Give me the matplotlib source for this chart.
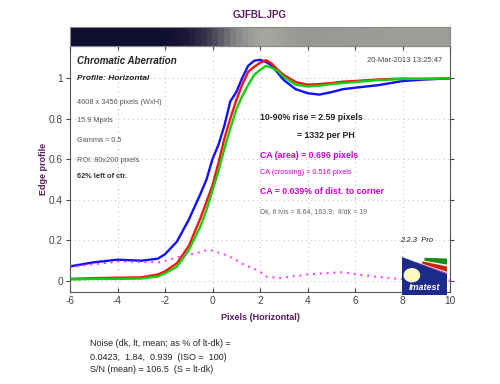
import matplotlib
matplotlib.use('Agg')
import matplotlib.pyplot as plt
import numpy as np
from matplotlib.patches import Polygon, Circle, Rectangle

plt.rcParams['font.family'] = ['Liberation Sans', 'DejaVu Sans']
plt.rcParams['axes.unicode_minus'] = False

# edge profiles
x = [-6, -5, -4, -3, -2.3, -2, -1.5, -1, -0.5, -0.25, 0, 0.25, 0.5, 0.75, 1.0,
     1.25, 1.5, 1.75, 2.0, 2.25, 2.5, 2.75, 3.0, 3.5, 4, 4.5, 5, 5.5, 6, 7, 8, 9, 10]
blue = [0.07, 0.09, 0.103, 0.098, 0.108, 0.13, 0.192, 0.30, 0.43, 0.50, 0.60, 0.67,
        0.765, 0.885, 0.93, 1.0, 1.06, 1.085, 1.09, 1.08, 1.06, 1.025, 0.99, 0.945,
        0.925, 0.918, 0.93, 0.945, 0.952, 0.965, 0.985, 0.993, 0.998]
red = [0.008, 0.012, 0.014, 0.016, 0.03, 0.045, 0.085, 0.17, 0.31, 0.39, 0.47, 0.58,
       0.70, 0.80, 0.89, 0.967, 1.03, 1.055, 1.075, 1.088, 1.07, 1.04, 1.015, 0.98,
       0.967, 0.97, 0.975, 0.982, 0.985, 0.993, 0.997, 0.995, 0.998]
green = [0.005, 0.008, 0.008, 0.01, 0.02, 0.035, 0.068, 0.15, 0.27, 0.35, 0.445, 0.54,
         0.65, 0.75, 0.845, 0.91, 0.965, 1.015, 1.04, 1.06, 1.05, 1.035, 1.005, 0.967,
         0.958, 0.962, 0.97, 0.975, 0.98, 0.99, 0.995, 0.997, 0.998]

# chromatic difference (magenta dotted)
x_ca = [-6, -4.9, -3.9, -3, -2.2, -1.4, -0.7, -0.15, 0.6, 1.0, 1.3, 1.7, 2.0, 2.3,
        2.85, 4.0, 5.4, 6.8, 7.9, 9, 10]
ca = [0.066, 0.082, 0.094, 0.092, 0.09, 0.118, 0.135, 0.153, 0.125, 0.10, 0.08, 0.06,
      0.045, 0.018, 0.013, 0.03, 0.041, 0.02, 0.008, 0.008, 0.0]

W, H = 500, 384
fig = plt.figure(figsize=(5, 3.84), dpi=100)

def fx(px):
    return px / W

def fy(py):
    return 1 - py / H

ax = fig.add_axes([fx(70), fy(291.7), fx(450) - fx(70), fy(46) - fy(291.7)])
ax.plot(x, blue, color='#1010ff', lw=1.7)
ax.plot(x, red, color='#ff1010', lw=1.7)
ax.plot(x, green, color='#10d010', lw=1.7)
ax.plot(x_ca, ca, color='#ff33ff', lw=1.4, linestyle=(0, (1, 2.5)))

ax.set_xlim(-6, 10)
ax.set_ylim(-0.055, 1.158)
ax.set_xticks(range(-6, 11, 2))
ax.set_yticks([0, 0.2, 0.4, 0.6, 0.8, 1])
ax.set_yticklabels(['0', '0.2', '0.4', '0.6', '0.8', '1'])
ax.grid(True, color='#c8c8c8', linestyle=(0, (1, 3)), lw=0.8)
ax.tick_params(axis='x', direction='in', top=True, length=3, labelsize=7.3,
               labelcolor='#444444', color='#444444', pad=3)
ax.tick_params(axis='y', direction='out', length=3, labelsize=7.3,
               labelcolor='#444444', color='#444444', pad=2)
ax.tick_params(axis='y', which='both', right=True)
for sp in ax.spines.values():
    sp.set_color('#555555')
    sp.set_linewidth(0.8)
ax.set_xlabel('Pixels (Horizontal)', color='#5a1a5e', fontsize=6.5, fontweight='bold', labelpad=5)
ax.set_ylabel('Edge profile', color='#5a1a5e', fontsize=6.5, fontweight='bold', labelpad=1)

# edge image strip on top, coloured by the green profile
sax = fig.add_axes([fx(70), fy(46), fx(450) - fx(70), fy(27) - fy(46)])
xs = np.linspace(-6, 10, 64)
v = np.clip((np.interp(xs, x, green) - 0.03) / 0.97, 0, 1.05) ** 1.1
dark = np.array([0.07, 0.06, 0.19])
light = np.array([0.62, 0.62, 0.60])
img = dark[None, :] + (light - dark)[None, :] * v[:, None]
img = np.clip(img, 0, 1)[None, :, :]
sax.imshow(img, aspect='auto', extent=[-6, 10, 0, 1], interpolation='nearest')
sax.set_xticks([])
sax.set_yticks([])
for sp in sax.spines.values():
    sp.set_color('#888888')
    sp.set_linewidth(0.8)

fig.text(fx(260), fy(15), 'GJFBL.JPG', color='#5a1a5e', fontsize=7, fontweight='bold',
         ha='center', va='center')

def t(px, py, s, **kw):
    kw.setdefault('va', 'center')
    fig.text(fx(px), fy(py), s, **kw)

t(77, 61, 'Chromatic Aberration', fontsize=7, fontweight='bold', style='italic', color='#222222')
t(77, 79, 'Profile: Horizontal', fontsize=6, fontweight='bold', style='italic', color='#222222')
t(77, 103, '4608 x 3456 pixels (WxH)', fontsize=5.3, color='#555555')
t(77, 121, '15.9 Mpxls', fontsize=5.3, color='#555555')
t(77, 141, 'Gamma = 0.5', fontsize=5.3, color='#555555')
t(77, 161, 'ROI: 80x200 pixels', fontsize=5.3, color='#555555')
t(77, 177, '62% left of ctr.', fontsize=5.3, fontweight='bold', color='#333333')
t(442, 61, '20-Mar-2013 13:25:47', fontsize=5.5, color='#444444', ha='right')
t(260, 118, '10-90% rise = 2.59 pixels', fontsize=6.3, fontweight='bold', color='#222222')
t(297, 135, '= 1332 per PH', fontsize=6.3, fontweight='bold', color='#222222')
t(260, 156, 'CA (area) = 0.696 pixels', fontsize=6.3, fontweight='bold', color='#cc00cc')
t(260, 173, 'CA (crossing) = 0.516 pixels', fontsize=5.3, color='#cc00cc')
t(260, 192, 'CA = 0.039% of dist. to corner', fontsize=6.3, fontweight='bold', color='#cc00cc')
t(260, 212, 'Dk, lt lvls = 8.64, 163.9;  lt/dk = 19', fontsize=5, color='#666666')
t(433, 240, '2.2.3  Pro', fontsize=5.5, style='italic', color='#222222', ha='right')

t(90, 343, 'Noise (dk, lt, mean; as % of lt-dk) =', fontsize=6.5, color='#222222')
t(90, 357, '0.0423,  1.84,  0.939  (ISO =  100)', fontsize=6.5, color='#222222')
t(90, 370, 'S/N (mean) = 106.5  (S = lt-dk)', fontsize=6.5, color='#222222')

# Imatest logo
lax = fig.add_axes([fx(402), fy(295), fx(447) - fx(402), fy(257) - fy(295)])
lax.set_xlim(0, 1)
lax.set_ylim(0, 1)
lax.axis('off')
lax.add_patch(Rectangle((0, 0), 1, 1, color='#1c2a8c'))

def band(y1, y2, x0, color):
    p1 = 1 - x0 * (1 - y1)
    p2 = 1 - x0 * (1 - y2)
    lax.add_patch(Polygon([(x0, p1), (1, y1), (1, y2), (x0, p2)], closed=True, color=color, lw=0))

band(1.0, 0.56, 0.0, '#ffffff')
band(0.96, 0.80, 0.5, '#1a8a1a')
band(0.75, 0.61, 0.45, '#cc2200')
band(0.58, 0.55, 0.3, '#aa2299')
lax.add_patch(Circle((0.22, 0.52), 0.17, color='#fff8c0'))
lax.text(0.5, 0.2, 'Imatest', color='white', fontsize=6.5, fontweight='bold', style='italic',
         ha='center', va='center')

fig.savefig('out.png', dpi=100)
